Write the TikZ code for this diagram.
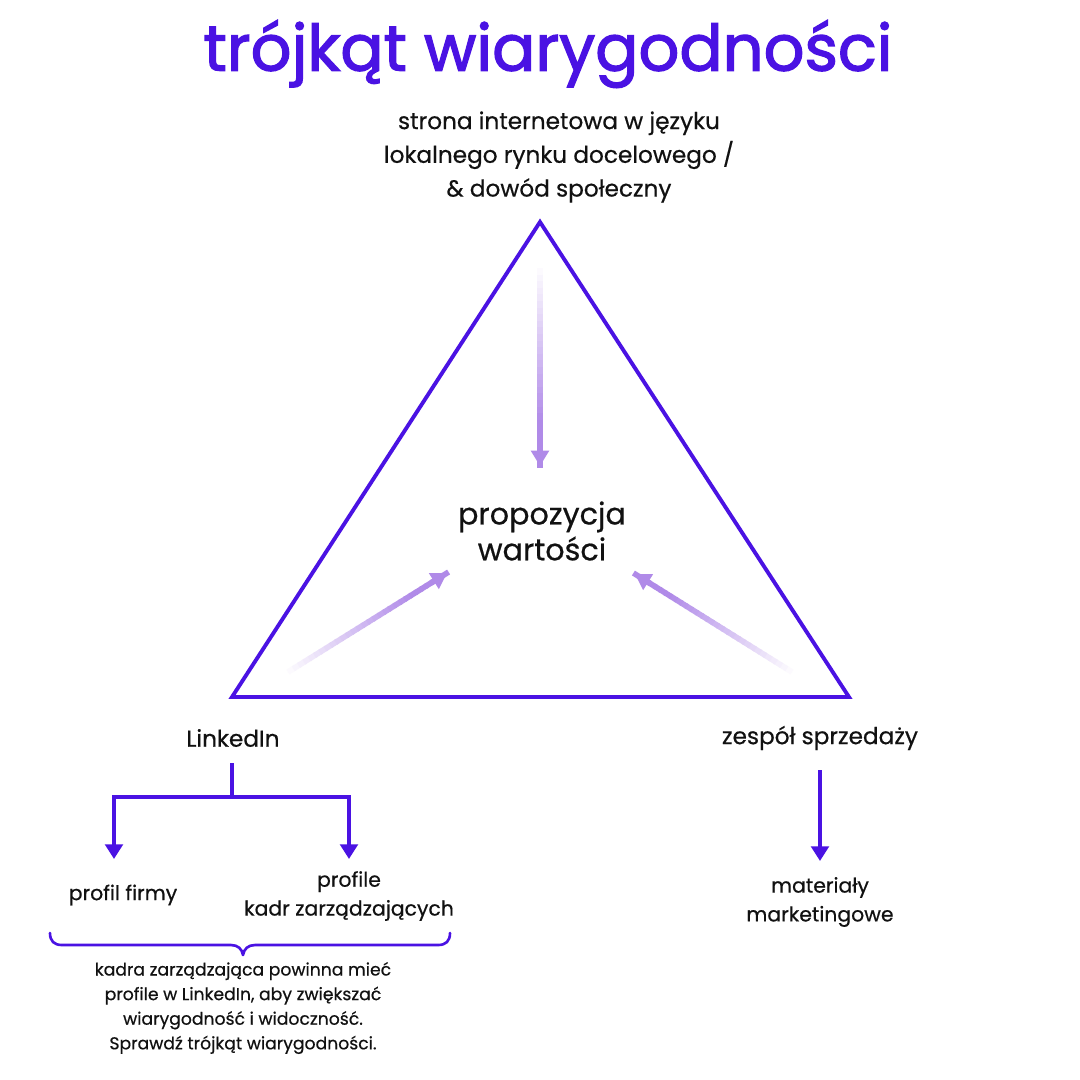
\documentclass[tikz,border=0pt]{standalone}
\usepackage{fontspec}
\setmainfont[FakeBold=0.5]{Poppins}
\newfontfamily\titlefont[FakeBold=2]{Poppins}
\usetikzlibrary{arrows.meta,calc}
\definecolor{deep}{HTML}{4A12E3}
\definecolor{lilac}{HTML}{B08AE8}
\definecolor{ink}{HTML}{111111}
\tikzset{
  lbl/.style={text=ink, align=center, inner sep=0pt, font=\fontsize{6.6pt}{9.6pt}\selectfont},
  midlbl/.style={text=ink, align=center, inner sep=0pt, font=\fontsize{5.8pt}{8.2pt}\selectfont},
  biglbl/.style={text=ink, align=center, inner sep=0pt, font=\fontsize{8.6pt}{10.2pt}\selectfont},
  smalllbl/.style={text=ink, align=center, inner sep=0pt, font=\fontsize{4.9pt}{7.0pt}\selectfont},
  conn/.style={draw=deep, line width=1.1pt, -{Triangle[length=4.2pt,width=5pt]}},
  tri/.style={draw=deep, line width=1.1pt, line join=miter},
}
\newcommand{\fadearrow}[2]{%
  \foreach \i in {0,...,29}{%
    \pgfmathsetmacro{\pa}{\i/30}%
    \pgfmathsetmacro{\pb}{(\i+1.3)/30}%
    \pgfmathsetmacro{\mixv}{min(100,100*(\i+1)/24)}%
    \draw[line width=1.6pt, color=lilac!\mixv!white, line cap=butt] ($(#1)!\pa!(#2)$) -- ($(#1)!\pb!(#2)$);
  }%
  \draw[lilac, line width=1.6pt, -{Triangle[length=4.4pt,width=5pt]}] ($(#1)!0.9!(#2)$) -- (#2);
}
\begin{document}
\begin{tikzpicture}[x=0.1mm, y=-0.1mm]
\useasboundingbox (0,0) rectangle (1080,1080);
\fill[white] (0,0) rectangle (1080,1080);

\node[text=deep, inner sep=0pt, font=\titlefont\fontsize{18.2pt}{22pt}\selectfont] (title) at (548,54) {trójkąt wiarygodności};

\node[lbl] (top) at (559,157) {strona internetowa w języku\\lokalnego rynku docelowego /\\\& dowód społeczny};

\coordinate (A) at (540,222);
\coordinate (B) at (232,697);
\coordinate (C) at (849,697);
\draw[tri] (A) -- (B) -- (C) -- cycle;

\node[biglbl] (vp) at (542,531) {propozycja\\wartości};

\coordinate (t0) at (540,268);
\coordinate (t1) at (540,466);
\coordinate (l0) at (288,672);
\coordinate (l1) at (447,573);
\coordinate (r0) at (792,672);
\coordinate (r1) at (635,574);
\fadearrow{t0}{t1}
\fadearrow{l0}{l1}
\fadearrow{r0}{r1}

\node[lbl] (li) at (233,738) {LinkedIn};
\node[lbl] (zs) at (820,738) {zespół sprzedaży};

\node[midlbl] (pf) at (123,895) {profil firmy};
\node[midlbl] (pk) at (349,896) {profile\\kadr zarządzających};
\node[midlbl] (mm) at (820,902) {materiały\\marketingowe};

\coordinate (lis) at (232,763);
\coordinate (lij) at (232,797);
\coordinate (pfa) at (114,859);
\coordinate (pka) at (349,859);
\draw[deep, line width=1.1pt] (lis) -- (lij);
\draw[conn] (lij) -| (pfa);
\draw[conn] (lij) -| (pka);

\coordinate (zsa) at (820,770);
\coordinate (mma) at (820,861);
\draw[conn] (zsa) -- (mma);

\draw[deep, line width=0.75pt, line cap=round, line join=round]
  (50,933) .. controls (50,941) and (54,945) .. (62,945) -- (231,945)
  .. controls (238,945) and (242,949) .. (243,955)
  .. controls (244,949) and (248,945) .. (255,945) -- (438,945)
  .. controls (446,945) and (450,941) .. (450,933);

\node[smalllbl] (note) at (243,1008) {kadra zarządzająca powinna mieć\\profile w LinkedIn, aby zwiększać\\wiarygodność i widoczność.\\Sprawdź trójkąt wiarygodności.};
\end{tikzpicture}
\end{document}
